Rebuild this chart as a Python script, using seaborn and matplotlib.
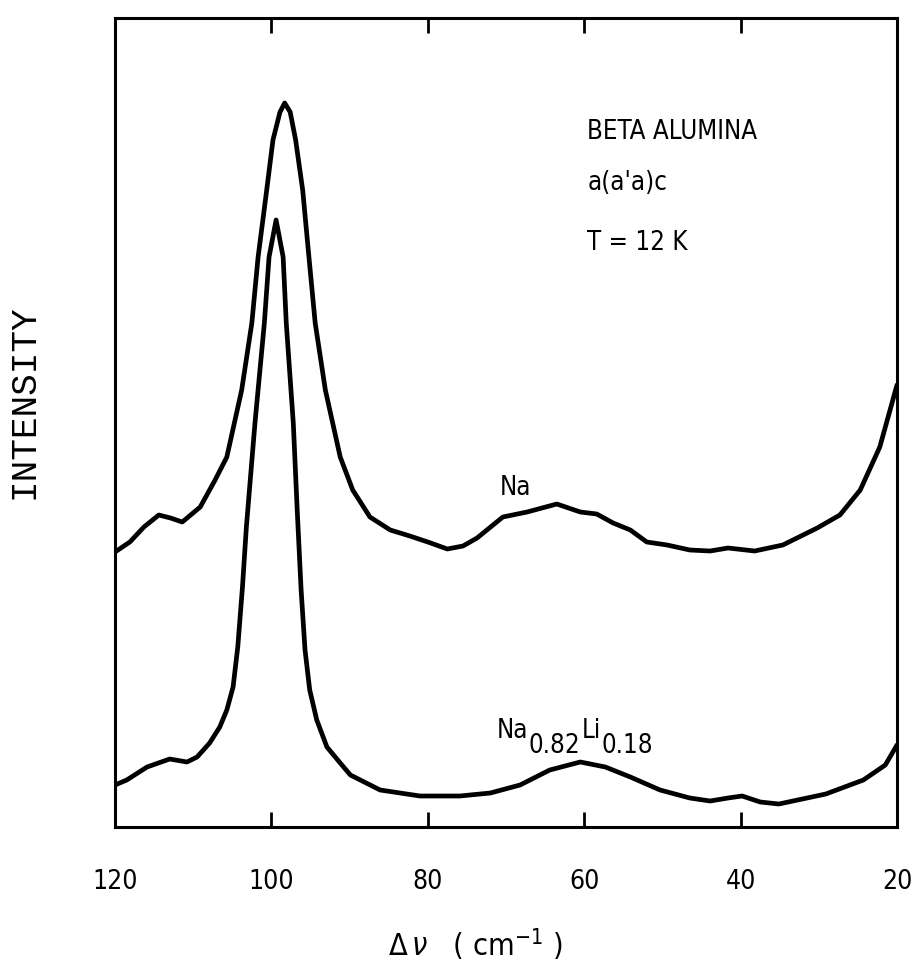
import numpy as np
import pandas as pd
import matplotlib
matplotlib.use("Agg")
import matplotlib.pyplot as plt
import seaborn as sns

# ---- data (wavenumber shift in cm^-1, intensity in arbitrary units) ----
na_shift = [120, 118.1, 116.3, 114.4, 112.9, 111.4, 109.1, 107.2, 105.7, 103.8, 102.5, 101.7,
            100.6, 99.8, 98.9, 98.3, 97.6, 96.9, 96.0, 95.2, 94.4, 93.1, 91.2, 89.6, 87.4,
            84.8, 82.3, 80.0, 77.5, 75.5, 73.7, 70.4, 67.3, 63.5, 60.5, 58.4, 56.3, 54.1,
            52.0, 49.4, 46.5, 43.9, 41.6, 38.2, 34.6, 30.2, 27.3, 24.7, 22.2, 20.0]
na_int = [275, 285, 300, 312, 309, 305, 320, 347, 370, 437, 504, 570,
          637, 687, 715, 724, 715, 687, 637, 570, 504, 437, 370, 337, 310,
          297, 291, 285, 278, 281, 289, 310, 315, 323, 315, 313, 304, 297,
          285, 282, 277, 276, 279, 276, 282, 299, 312, 337, 380, 442]

nali_shift = [120, 118.5, 115.9, 113.0, 110.8, 109.5, 107.9, 106.6, 105.7, 104.9, 104.3, 103.7,
              103.2, 102.1, 100.9, 100.3, 99.4, 98.5, 98.1, 97.2, 96.7, 96.2, 95.7,
              95.1, 94.2, 92.9, 91.2, 89.9, 86.1, 81.0, 75.9, 72.0, 68.2, 64.4, 60.5,
              57.3, 54.1, 50.3, 46.5, 43.9, 41.6, 39.8, 37.5, 35.1, 29.1, 24.3, 21.5, 20.0]
nali_int = [42, 47, 60, 68, 65, 70, 84, 100, 117, 140, 180, 240,
            300, 404, 504, 570, 607, 570, 504, 404, 317, 237, 177,
            137, 107, 80, 64, 52, 37, 31, 31, 34, 42, 57, 65,
            60, 50, 37, 29, 26, 29, 31, 25, 23, 33, 47, 62, 82]

xticks = [120, 100, 80, 60, 40, 20]
xtick_labels = ["120", "100", "80", "60", "40", "20"]

df = pd.concat([
    pd.DataFrame({"shift": na_shift, "intensity": na_int, "sample": "Na"}),
    pd.DataFrame({"shift": nali_shift, "intensity": nali_int, "sample": "NaLi"}),
])

sns.set_style("white")
narrow = ["DejaVu Sans", "Liberation Sans"]
plt.rcParams["font.family"] = narrow
plt.rcParams["font.stretch"] = "condensed"
plt.rcParams["text.color"] = "black"
plt.rcParams["xtick.color"] = "black"

fig = plt.figure(figsize=(9.12, 9.66), dpi=100)
ax = fig.add_axes([115 / 912, 1 - 827 / 966, 782 / 912, 809 / 966])

sns.lineplot(data=df, x="shift", y="intensity", units="sample", estimator=None,
             color="black", linewidth=3.4, ax=ax, legend=False)

ax.set_xlim(120, 20)
ax.set_ylim(0, 809)
ax.set_xticks(xticks)
ax.set_xticklabels(xtick_labels, fontsize=19, family=narrow, stretch="condensed")
ax.set_yticks([])
ax.tick_params(axis="x", direction="in", length=11, width=2, pad=30,
               top=True, bottom=True, labeltop=False, labelcolor="black")
for s in ax.spines.values():
    s.set_linewidth(2.2)
    s.set_color("black")
ax.set_xlabel("")
ax.set_ylabel("")

txt = dict(fontsize=18.5, family=narrow, stretch="condensed", color="black")
ax.text(59.6, 695, "BETA ALUMINA", ha="left", va="center", **txt)
ax.text(59.6, 644, "a(a'a)c", ha="left", va="center", **txt)
ax.text(59.6, 584, "T = 12 K", ha="left", va="center", **txt)
ax.text(70.8, 339, "Na", ha="left", va="center", **txt)

# composition label with large, lowered subscripts
t1 = ax.text(71.2, 96, "Na", ha="left", va="center", **txt)
t2 = ax.annotate("0.82", xy=(1, 0), xycoords=t1, xytext=(0.5, -11),
                 textcoords="offset points", ha="left", va="bottom", **txt)
t3 = ax.annotate("Li", xy=(1, 0), xycoords=t2, xytext=(0.5, 11),
                 textcoords="offset points", ha="left", va="bottom", **txt)
t4 = ax.annotate("0.18", xy=(1, 0), xycoords=t3, xytext=(0.5, -11),
                 textcoords="offset points", ha="left", va="bottom", **txt)

fig.text(24 / 912, 1 - 402 / 966, "INTENSITY", rotation=90, ha="center", va="center",
         fontsize=26, color="black", family=["Liberation Mono", "DejaVu Sans Mono"])
fig.text(475 / 912, 1 - 945 / 966, r"$\Delta\,\nu$" + "   ( cm$^{\mathregular{-1}}$ )",
         ha="center", va="center", fontsize=22, color="black", family=narrow, stretch="condensed")

fig.savefig("out.png", dpi=100)
